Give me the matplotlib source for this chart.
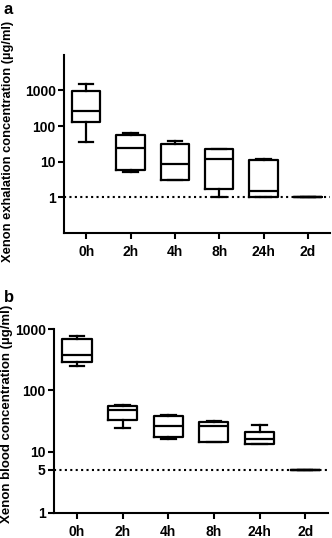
import numpy as np
import matplotlib
matplotlib.use("Agg")
import matplotlib.pyplot as plt

plt.rcParams['font.family'] = ['Liberation Sans', 'DejaVu Sans']
plt.rcParams['font.weight'] = 'bold'

groups = ["0h", "2h", "4h", "8h", "24h", "2d"]

# panel a: exhalation concentration (ug/ml), box stats
a_whislo = [35, 5, 3, 1, 1, 1]
a_q1 = [130, 5.8, 3, 1.75, 1, 1]
a_med = [263, 25, 8.5, 12, 1.5, 1]
a_q3 = [950, 56, 31, 23, 11.2, 1]
a_whishi = [1480, 66, 37, 23, 12, 1]
a_limit = 1

# panel b: blood concentration (ug/ml)
b_whislo = [252, 24.6, 16.3, 14.5, 13.4, 5]
b_q1 = [296, 33, 17, 14.5, 13.4, 5]
b_med = [377, 48, 26, 26, 16.3, 5]
b_q3 = [704, 55, 38, 31, 20.5, 5]
b_whishi = [775, 58, 40, 32, 27, 5]
b_limit = 5


def make_stats(lo, q1, med, q3, hi):
    stats = []
    for i in range(len(groups)):
        stats.append(dict(whislo=lo[i], q1=q1[i], med=med[i], q3=q3[i],
                          whishi=hi[i], fliers=[], label=groups[i]))
    return stats


def draw_box(ax, stats, limit):
    line = dict(color='black', linewidth=1.6)
    ax.bxp(stats, positions=range(len(groups)), widths=0.64, capwidths=0.32,
           showfliers=False, boxprops=line, medianprops=line,
           whiskerprops=line, capprops=line)
    ax.axhline(limit, color='black', linestyle=(0, (1, 1.6)), linewidth=1.5,
               zorder=0)
    ax.set_yscale('log')
    ax.set_xlim(-0.5, 5.5)
    ax.set_xticks(range(len(groups)))
    ax.set_xticklabels(groups)
    ax.spines['top'].set_visible(False)
    ax.spines['right'].set_visible(False)
    for s in ['left', 'bottom']:
        ax.spines[s].set_linewidth(1.5)
    ax.tick_params(axis='both', which='major', width=1.5, length=4,
                   labelsize=10, pad=2)
    ax.tick_params(axis='y', which='minor', length=0)
    ax.tick_params(axis='x', pad=5)


fig = plt.figure(figsize=(3.32, 5.38), dpi=100)

ax1 = fig.add_axes([0.193, 0.567, 0.801, 0.331])
draw_box(ax1, make_stats(a_whislo, a_q1, a_med, a_q3, a_whishi), a_limit)
ax1.set_ylim(0.1, 10000)
ax1.set_yticks([1, 10, 100, 1000])
ax1.set_yticklabels(["1", "10", "100", "1000"])
ax1.set_ylabel("Xenon exhalation concentration (\u00b5g/ml)", fontsize=9.3,
               fontweight='bold')
ax1.yaxis.set_label_coords(-0.19, 0.514)

ax2 = fig.add_axes([0.163, 0.047, 0.825, 0.341])
draw_box(ax2, make_stats(b_whislo, b_q1, b_med, b_q3, b_whishi), b_limit)
ax2.set_ylim(1, 1000)
ax2.set_yticks([1, 5, 10, 100, 1000])
ax2.set_yticklabels(["1", "5", "10", "100", "1000"])
ax2.set_ylabel("Xenon blood concentration (\u00b5g/ml)", fontsize=9.5,
               fontweight='bold')
ax2.yaxis.set_label_coords(-0.15, 0.54)

fig.text(0.012, 0.996, "a", fontsize=12, fontweight='bold', va='top')
fig.text(0.012, 0.461, "b", fontsize=12, fontweight='bold', va='top')

fig.savefig("out.png", dpi=100)
